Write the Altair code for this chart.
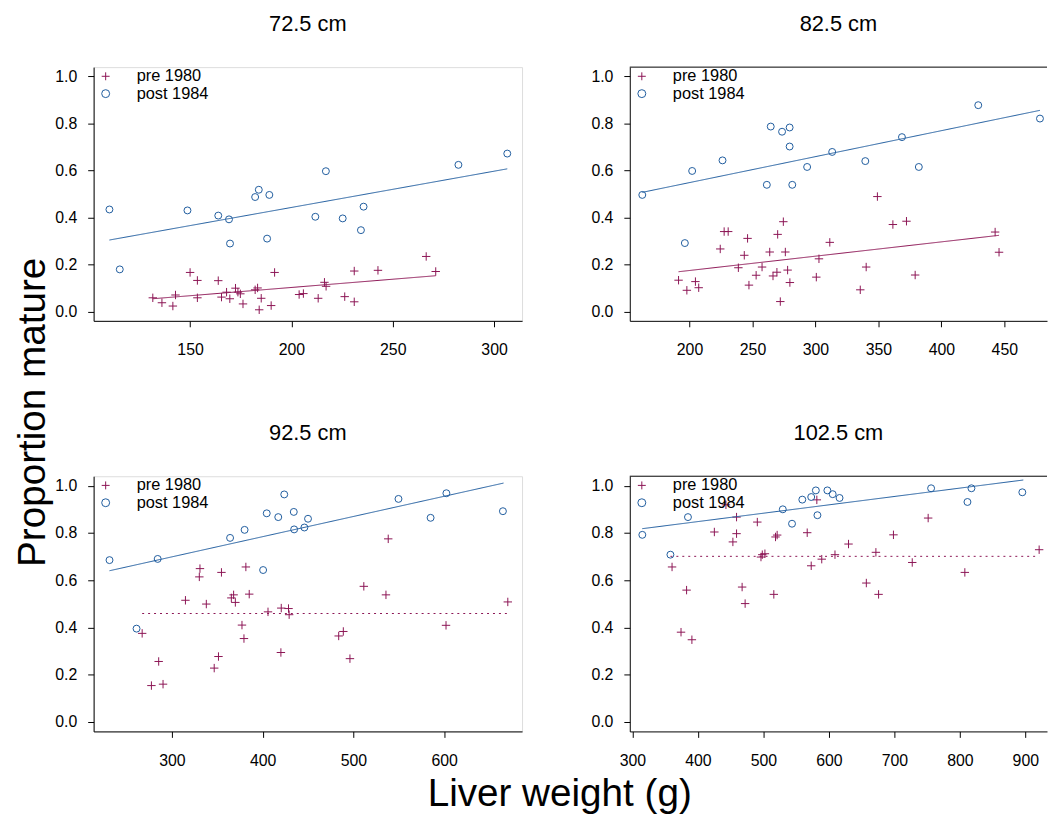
import altair as alt
import pandas as pd

FONT = "Liberation Sans"
MAROON = "#8C1454"
BLUE = "#1F5C9E"
PERIODS = ["pre 1980", "post 1984"]
CROSS = "M-1,0L1,0M0,-1L0,1"

titles = ["72.5 cm", "82.5 cm", "92.5 cm", "102.5 cm"]

# ---- panel 1: 72.5 cm ----
p1_pre_x = [131.6, 136.1, 141.5, 142.8, 150.0, 153.6, 153.6, 163.9, 165.5, 168.0, 169.6, 172.4,
            173.6, 174.8, 176.1, 182.1, 183.3, 184.1, 185.1, 190.0, 191.7, 203.8, 205.9, 213.2,
            216.3, 217.1, 226.3, 231.0, 231.0, 242.7, 266.5, 271.2]
p1_pre_y = [0.058, 0.037, 0.023, 0.070, 0.166, 0.132, 0.058, 0.131, 0.061, 0.082, 0.054, 0.099,
            0.082, 0.075, 0.032, 0.092, 0.100, 0.007, 0.056, 0.025, 0.166, 0.072, 0.076, 0.056,
            0.124, 0.107, 0.063, 0.041, 0.172, 0.175, 0.234, 0.170]
p1_post_x = [110.2, 115.3, 148.7, 163.9, 169.2, 169.7, 182.1, 183.9, 188.0, 189.1, 211.8, 217.0,
             225.3, 234.3, 235.6, 282.4, 306.5]
p1_post_y = [0.434, 0.179, 0.430, 0.408, 0.392, 0.289, 0.487, 0.518, 0.310, 0.496, 0.403, 0.597,
             0.396, 0.346, 0.446, 0.624, 0.672]
p1_pre_fit_x = [131.6, 271.2]
p1_pre_fit_y = [0.054, 0.152]
p1_post_fit_x = [110.2, 306.5]
p1_post_fit_y = [0.304, 0.607]

# ---- panel 2: 82.5 cm ----
p2_pre_x = [191.3, 197.9, 204.7, 207.3, 224.4, 227.5, 230.7, 238.8, 243.5, 246.1, 247.2, 252.9,
            257.6, 263.7, 266.3, 269.4, 270.0, 272.1, 274.5, 276.1, 277.9, 279.7, 300.7, 302.8,
            311.4, 335.6, 340.3, 349.2, 361.5, 372.3, 379.2, 442.7, 445.8]
p2_pre_y = [0.133, 0.090, 0.127, 0.101, 0.266, 0.340, 0.340, 0.186, 0.239, 0.311, 0.112, 0.154,
            0.189, 0.253, 0.151, 0.167, 0.328, 0.042, 0.382, 0.253, 0.176, 0.123, 0.146, 0.224,
            0.294, 0.092, 0.189, 0.489, 0.370, 0.384, 0.155, 0.338, 0.252]
p2_post_x = [162.5, 196.3, 202.1, 226.2, 261.4, 264.5, 273.5, 279.5, 279.5, 281.6, 293.4, 313.3,
             339.6, 368.7, 382.1, 429.3, 478.3]
p2_post_y = [0.496, 0.291, 0.598, 0.643, 0.539, 0.787, 0.765, 0.783, 0.702, 0.539, 0.615, 0.679,
             0.640, 0.742, 0.615, 0.878, 0.821]
p2_pre_fit_x = [191.3, 445.8]
p2_pre_fit_y = [0.169, 0.324]
p2_post_fit_x = [162.5, 478.3]
p2_post_fit_y = [0.507, 0.856]

# ---- panel 3: 92.5 cm ----
p3_pre_x = [267.2, 277.4, 285.4, 290.2, 314.9, 330.2, 330.9, 337.9, 346.6, 351.3, 354.6, 365.5,
            368.0, 369.9, 377.2, 379.4, 381.5, 385.2, 405.9, 420.1, 420.5, 428.5, 429.2, 483.8,
            488.9, 496.2, 511.5, 535.9, 538.4, 602.1, 670.2]
p3_pre_y = [0.375, 0.154, 0.256, 0.160, 0.515, 0.614, 0.649, 0.499, 0.228, 0.277, 0.633, 0.525,
            0.538, 0.506, 0.410, 0.353, 0.656, 0.541, 0.466, 0.294, 0.482, 0.480, 0.454, 0.364,
            0.383, 0.268, 0.574, 0.538, 0.775, 0.409, 0.508]
p3_post_x = [231.2, 261.0, 284.3, 364.1, 380.1, 400.5, 404.5, 417.2, 423.8, 434.3, 434.7, 446.0,
             450.0, 549.7, 585.1, 602.5, 664.8]
p3_post_y = [0.685, 0.395, 0.690, 0.779, 0.813, 0.643, 0.883, 0.867, 0.963, 0.889, 0.815, 0.823,
             0.860, 0.944, 0.864, 0.968, 0.892]
p3_pre_fit_x = [267.2, 670.2]
p3_pre_fit_y = [0.459, 0.459]
p3_post_fit_x = [231.2, 665.5]
p3_post_fit_y = [0.640, 1.011]

# ---- panel 4: 102.5 cm ----
p4_pre_x = [360.5, 374.2, 382.7, 390.8, 425.1, 442.8, 453.4, 459.0, 459.0, 467.5, 472.1, 490.7,
            496.3, 498.3, 502.3, 515.9, 518.5, 521.0, 566.9, 573.0, 581.6, 589.1, 609.3, 630.0,
            657.2, 671.8, 675.9, 698.6, 727.3, 751.6, 807.6, 921.1]
p4_pre_y = [0.656, 0.380, 0.558, 0.348, 0.804, 0.919, 0.762, 0.797, 0.867, 0.571, 0.501, 0.846,
            0.698, 0.708, 0.712, 0.540, 0.783, 0.791, 0.801, 0.661, 0.940, 0.689, 0.708, 0.753,
            0.588, 0.718, 0.540, 0.792, 0.675, 0.863, 0.633, 0.729]
p4_post_x = [315.1, 358.0, 384.8, 529.6, 543.7, 559.4, 573.0, 580.1, 582.5, 597.7, 605.8, 616.3,
             756.1, 811.6, 817.7, 895.4]
p4_post_y = [0.792, 0.708, 0.867, 0.900, 0.839, 0.941, 0.952, 0.980, 0.875, 0.980, 0.964, 0.948,
             0.989, 0.931, 0.989, 0.972]
p4_pre_fit_x = [358.0, 921.1]
p4_pre_fit_y = [0.701, 0.701]
p4_post_fit_x = [315.1, 896.9]
p4_post_fit_y = [0.818, 1.024]

y_ticks = [0.0, 0.2, 0.4, 0.6, 0.8, 1.0]


def make_panel(title, pre_x, pre_y, post_x, post_y, pre_fx, pre_fy, post_fx, post_fy,
               pre_dotted, xdomain, xticks, width, height, right_col, title_dy,
               xtitle=None, ytitle=None):
    pts = pd.DataFrame({
        "x": list(pre_x) + list(post_x),
        "y": list(pre_y) + list(post_y),
        "period": ["pre 1980"] * len(pre_x) + ["post 1984"] * len(post_x),
    })
    fits = pd.DataFrame({
        "x": list(pre_fx) + list(post_fx),
        "y": list(pre_fy) + list(post_fy),
        "period": ["pre 1980"] * 2 + ["post 1984"] * 2,
        "dash": (["dotted"] if pre_dotted else ["solid"]) * 2 + ["solid"] * 2,
    })
    xkw = dict(values=xticks, grid=False, tickSize=6, labelFontSize=16, labelFont=FONT,
               labelColor="black", tickColor="black", domainColor="black", labelPadding=15,
               labelFlush=False, labelOverlap=False, title=None)
    ykw = dict(values=y_ticks, format=".1f", grid=False, tickSize=6, labelFontSize=16,
               labelFont=FONT, labelColor="black", tickColor="black", domainColor="black",
               labelPadding=11, labelOverlap=False, labelFlush=False, title=None)
    if xtitle:
        xkw.update(title=xtitle, titleFontSize=39, titleFont=FONT, titleFontWeight="normal",
                   titleColor="black", titleX=469.8, titleY=74.5, titleBaseline="alphabetic",
                   titleAlign="center")
    if ytitle:
        ykw.update(title=ytitle, titleFontSize=39, titleFont=FONT, titleFontWeight="normal",
                   titleColor="black", titleX=-50, titleY=-65, titleBaseline="alphabetic",
                   titleAlign="center", titleAngle=270)
    xs = alt.Scale(domain=xdomain, nice=False, zero=False)
    ys = alt.Scale(domain=[-0.04, 1.04], nice=False, zero=False)
    X = alt.X("x:Q", scale=xs, axis=alt.Axis(**xkw))
    Y = alt.Y("y:Q", scale=ys, axis=alt.Axis(**ykw))
    color = alt.Color("period:N", scale=alt.Scale(domain=PERIODS, range=[MAROON, BLUE]),
                      legend=alt.Legend(orient="none", legendX=3.9, legendY=1, title=None,
                                        padding=0, labelFontSize=16.5, labelFont=FONT,
                                        labelColor="black", symbolSize=64, symbolStrokeWidth=1,
                                        labelOffset=23, rowPadding=0.5))
    shape = alt.Shape("period:N", scale=alt.Scale(domain=PERIODS, range=[CROSS, "circle"]))
    size = alt.Size("period:N", scale=alt.Scale(domain=PERIODS, range=[72, 49]), legend=None)
    points = alt.Chart(pts).mark_point(filled=False, strokeWidth=1, opacity=1).encode(
        x=X, y=Y, color=color, shape=shape, size=size)
    lines = alt.Chart(fits).mark_line(strokeWidth=1).encode(
        x=X, y=Y,
        color=alt.Color("period:N", scale=alt.Scale(domain=PERIODS, range=[MAROON, BLUE]), legend=None),
        detail="period:N",
        strokeDash=alt.StrokeDash("dash:N", scale=alt.Scale(domain=["solid", "dotted"],
                                                             range=[[1, 0], [2, 4]]), legend=None),
    )
    head = alt.Chart(pd.DataFrame({"t": [title]})).mark_text(
        fontSize=22, font=FONT, color="black", align="center", baseline="alphabetic").encode(
        text="t:N", x=alt.value(width / 2), y=alt.value(-title_dy))
    layers = [points, lines, head]
    props = dict(width=width, height=height)
    if right_col:
        top = alt.Chart(pd.DataFrame({"t": [0]})).mark_rule(color="black", strokeWidth=1).encode(
            x=alt.value(0), x2=alt.value(width), y=alt.value(0))
        layers.append(top)
        props["view"] = alt.ViewBackground(stroke="transparent")
    return alt.layer(*layers).properties(**props)


W_L, W_R, H_T, H_B = 432.3, 421, 256, 257.5

c1 = make_panel(titles[0], p1_pre_x, p1_pre_y, p1_post_x, p1_post_y, p1_pre_fit_x, p1_pre_fit_y,
                p1_post_fit_x, p1_post_fit_y, False, [102.4, 313.8], [150, 200, 250, 300],
                W_L, H_T, False, 36.7)
c2 = make_panel(titles[1], p2_pre_x, p2_pre_y, p2_post_x, p2_post_y, p2_pre_fit_x, p2_pre_fit_y,
                p2_post_fit_x, p2_post_fit_y, False, [152.56, 483.9], [200, 250, 300, 350, 400, 450],
                W_R, H_T, True, 36.7)
c3 = make_panel(titles[2], p3_pre_x, p3_pre_y, p3_post_x, p3_post_y, p3_pre_fit_x, p3_pre_fit_y,
                p3_post_fit_x, p3_post_fit_y, True, [213.7, 685.9], [300, 400, 500, 600],
                W_L, H_B, False, 36.5, xtitle="Liver weight (g)", ytitle="Proportion mature")
c4 = make_panel(titles[3], p4_pre_x, p4_pre_y, p4_post_x, p4_post_y, p4_pre_fit_x, p4_pre_fit_y,
                p4_post_fit_x, p4_post_fit_y, True, [295.94, 933.1],
                [300, 400, 500, 600, 700, 800, 900], W_R, H_B, True, 36.5)

chart = alt.concat(c1, c2, c3, c4, columns=2, spacing={"row": 156.8, "column": 108},
                   bounds="flush").resolve_scale(x="independent").resolve_legend(
    color="independent", shape="independent").properties(
    padding={"left": 4.4, "top": 0, "right": 0, "bottom": 0}).configure_view(
    stroke="black", strokeWidth=1).configure(background="white")

chart.save("out.html", embed_options={"renderer": "svg", "actions": False})
